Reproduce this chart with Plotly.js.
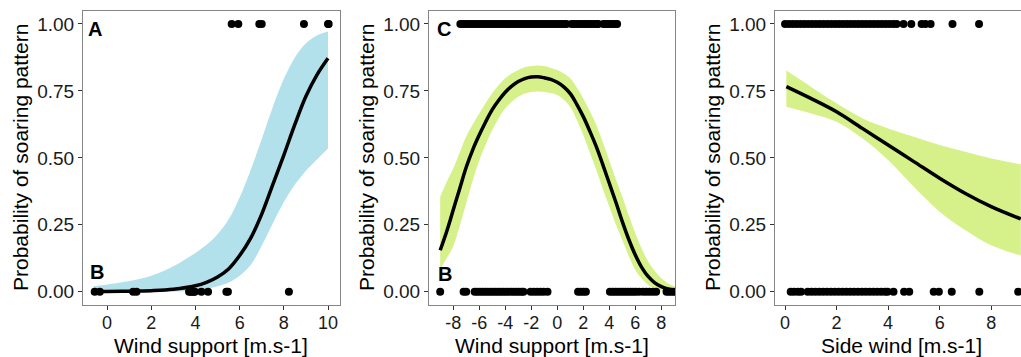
<!DOCTYPE html>
<html><head><meta charset="utf-8">
<script src="https://cdn.plot.ly/plotly-3.0.1.min.js"></script>
<style>html,body{margin:0;padding:0;overflow:hidden;background:#fff;width:1021px;height:357px}#chart{width:1040px;height:357px}</style>
</head><body><div id="chart"></div>
<script>
// ---------- Panel 1 (Wind support, A/B) ----------
const p1X     = [-0.6, 0, 1, 2, 3, 4, 4.5, 5, 5.5, 6, 6.5, 7, 7.5, 8, 8.5, 9, 9.5, 10];
const p1Fit   = [0.001, 0.001, 0.002, 0.004, 0.009, 0.022, 0.035, 0.055, 0.085, 0.135, 0.2, 0.29, 0.4, 0.51, 0.625, 0.73, 0.81, 0.872];
const p1Upper = [0.02, 0.027, 0.04, 0.06, 0.095, 0.145, 0.175, 0.215, 0.27, 0.352, 0.455, 0.57, 0.69, 0.795, 0.875, 0.928, 0.957, 0.972];
const p1Lower = [0, 0, 0, 0, 0.001, 0.004, 0.01, 0.02, 0.034, 0.06, 0.1, 0.172, 0.255, 0.335, 0.4, 0.452, 0.494, 0.535];
const p1OnesX  = [5.64, 5.94, 6.89, 7.0, 8.91, 10.0, 10.03];
const p1ZerosX = [-0.56, -0.33, 1.18, 1.33, 3.71, 3.78, 3.85, 3.92, 3.97, 4.27, 4.57, 5.4, 5.47, 8.23];

// ---------- Panel 2 (Wind support, C/B) ----------
const p2X     = [-9, -8.5, -8, -7.5, -7, -6.5, -6, -5.5, -5, -4.5, -4, -3.5, -3, -2.5, -2, -1.5, -1, -0.5, 0, 0.5, 1, 1.5, 2, 2.5, 3, 3.5, 4, 4.5, 5, 5.5, 6, 6.5, 7, 7.5, 8, 8.5, 9];
const p2Fit   = [0.155, 0.225, 0.305, 0.385, 0.465, 0.53, 0.585, 0.635, 0.68, 0.715, 0.745, 0.768, 0.785, 0.796, 0.802, 0.803, 0.799, 0.793, 0.782, 0.765, 0.74, 0.70, 0.654, 0.60, 0.542, 0.475, 0.405, 0.335, 0.262, 0.195, 0.137, 0.09, 0.056, 0.033, 0.019, 0.01, 0.005];
const p2Upper = [0.355, 0.41, 0.46, 0.52, 0.58, 0.625, 0.666, 0.705, 0.741, 0.772, 0.797, 0.815, 0.828, 0.838, 0.843, 0.845, 0.843, 0.836, 0.828, 0.815, 0.797, 0.763, 0.722, 0.675, 0.623, 0.558, 0.49, 0.42, 0.355, 0.285, 0.218, 0.16, 0.112, 0.077, 0.05, 0.032, 0.02];
const p2Lower = [0.085, 0.125, 0.17, 0.245, 0.33, 0.415, 0.49, 0.55, 0.604, 0.648, 0.685, 0.71, 0.728, 0.74, 0.746, 0.748, 0.746, 0.742, 0.735, 0.717, 0.69, 0.642, 0.585, 0.52, 0.455, 0.385, 0.318, 0.252, 0.193, 0.132, 0.081, 0.048, 0.025, 0.012, 0.004, 0.001, 0.0];
const p2OnesX  = [-7.45, -7.25, -7.05, -6.85, -6.65, -6.45, -6.25, -6.05, -5.85, -5.65, -5.45, -5.25, -5.05, -4.85, -4.65, -4.45, -4.25, -4.05, -3.85, -3.65, -3.45, -3.25, -3.05, -2.85, -2.65, -2.45, -2.25, -2.05, -1.85, -1.65, -1.45, -1.25, -1.05, -0.85, -0.65, -0.45, -0.25, -0.05, 0.15, 0.35, 0.55, 0.7, 1.1, 1.3, 1.5, 1.7, 1.9, 2.1, 2.25, 2.45, 2.65, 2.85, 3.05, 3.15, 3.55, 3.7, 3.9, 4.1, 4.3, 4.5, 4.6];
const p2ZerosX = [-9.0, -7.2, -7.0, -6.35, -6.15, -5.95, -5.75, -5.55, -5.35, -5.15, -4.95, -4.75, -4.55, -4.35, -4.15, -3.95, -3.75, -3.55, -3.35, -3.15, -2.95, -2.75, -2.6, -2.05, -1.8, -1.55, -1.3, -1.05, -0.75, 1.6, 1.8, 2.0, 2.2, 4.05, 4.25, 4.45, 4.65, 4.85, 5.05, 5.25, 5.45, 5.65, 5.85, 6.05, 6.3, 6.6, 6.85, 7.1, 7.35, 7.6, 8.4, 8.6, 8.8, 9.0];

// ---------- Panel 3 (Side wind) ----------
const p3X     = [0.05, 1, 2, 3, 4, 5, 6, 7, 8, 9.15];
const p3Fit   = [0.766, 0.722, 0.672, 0.61, 0.548, 0.486, 0.424, 0.367, 0.318, 0.272];
const p3Upper = [0.826, 0.766, 0.704, 0.648, 0.61, 0.579, 0.548, 0.523, 0.498, 0.476];
const p3Lower = [0.691, 0.666, 0.635, 0.573, 0.492, 0.392, 0.299, 0.23, 0.174, 0.135];
const p3OnesX  = [0.0, 0.15, 0.3, 0.45, 0.6, 0.75, 0.9, 1.05, 1.2, 1.35, 1.5, 1.65, 1.8, 1.95, 2.1, 2.25, 2.4, 2.55, 2.7, 2.85, 3.0, 3.15, 3.3, 3.45, 3.6, 3.75, 3.9, 4.05, 4.2, 4.33, 4.6, 4.9, 5.3, 5.45, 5.65, 6.5, 7.53];
const p3ZerosX = [0.22, 0.35, 0.5, 0.62, 0.88, 1.03, 1.18, 1.33, 1.48, 1.63, 1.78, 1.93, 2.08, 2.23, 2.38, 2.53, 2.68, 2.83, 2.98, 3.13, 3.28, 3.43, 3.58, 3.73, 3.88, 3.98, 4.21, 4.62, 4.82, 5.77, 5.97, 6.47, 7.54, 9.05];

// ---------- Text / ticks ----------
const yTitle = "Probability of soaring pattern";
const xTitles = ["Wind support [m.s-1]", "Wind support [m.s-1]", "Side wind [m.s-1]"];
const yTickVals = [0, 0.25, 0.5, 0.75, 1];
const yTickText = ["0.00", "0.25", "0.50", "0.75", "1.00"];
const x1TickVals = [0, 2, 4, 6, 8, 10];
const x1TickText = ["0", "2", "4", "6", "8", "10"];
const x2TickVals = [-8, -6, -4, -2, 0, 2, 4, 6, 8];
const x2TickText = ["-8", "-6", "-4", "-2", "0", "2", "4", "6", "8"];
const x3TickVals = [0, 2, 4, 6, 8];
const x3TickText = ["0", "2", "4", "6", "8"];

const W = 1040, H = 357;
const FONT = "Liberation Sans, Arial, Helvetica, sans-serif";
const BLUE = "#b2e1ec", GREEN = "#d6f08a";

function ribbon(x, up, lo, color, xa, ya) {
  return [
    {x: x, y: lo, type: "scatter", mode: "lines", line: {width: 0, color: color, shape: "spline", smoothing: 1},
      hoverinfo: "skip", xaxis: xa, yaxis: ya, showlegend: false},
    {x: x, y: up, type: "scatter", mode: "lines", fill: "tonexty", fillcolor: color,
      line: {width: 0, color: color, shape: "spline", smoothing: 1},
      hoverinfo: "skip", xaxis: xa, yaxis: ya, showlegend: false}
  ];
}
function curve(x, y, xa, ya) {
  return {x: x, y: y, type: "scatter", mode: "lines",
    line: {color: "#000", width: 3.5, shape: "spline", smoothing: 1},
    xaxis: xa, yaxis: ya, showlegend: false};
}
function dots(xs, yv, xa, ya) {
  return {x: xs, y: xs.map(() => yv), type: "scatter", mode: "markers",
    marker: {color: "#000", size: 8}, xaxis: xa, yaxis: ya, showlegend: false};
}

const data = [
  ...ribbon(p1X, p1Upper, p1Lower, BLUE, "x", "y"),
  curve(p1X, p1Fit, "x", "y"),
  dots(p1OnesX, 1, "x", "y"), dots(p1ZerosX, 0, "x", "y"),
  ...ribbon(p2X, p2Upper, p2Lower, GREEN, "x2", "y2"),
  curve(p2X, p2Fit, "x2", "y2"),
  dots(p2OnesX, 1, "x2", "y2"), dots(p2ZerosX, 0, "x2", "y2"),
  ...ribbon(p3X, p3Upper, p3Lower, GREEN, "x3", "y3"),
  curve(p3X, p3Fit, "x3", "y3"),
  dots(p3OnesX, 1, "x3", "y3"), dots(p3ZerosX, 0, "x3", "y3")
];

const tickFont = {family: FONT, size: 18, color: "#1a1a1a"};
function xax(l, r, range, tv, tt, anchor) {
  return {domain: [l / W, r / W], range: range, tickvals: tv, ticktext: tt, anchor: anchor,
    showgrid: false, zeroline: false, ticklabelstandoff: -3,
    showline: true, mirror: true, linecolor: "#858585", linewidth: 1,
    ticks: "outside", ticklen: 4, tickcolor: "#333", tickwidth: 1, tickfont: tickFont, fixedrange: true};
}
function yax(anchor) {
  return {domain: [(H - 305.1) / H, (H - 10.6) / H], range: [-0.05, 1.05], anchor: anchor,
    tickvals: yTickVals, ticktext: yTickText, showgrid: false, zeroline: false,
    showline: true, mirror: true, linecolor: "#858585", linewidth: 1,
    ticks: "outside", ticklen: 4, tickcolor: "#333", tickwidth: 1, tickfont: {family: FONT, size: 19, color: "#1a1a1a"}, fixedrange: true};
}

const axLeft = [83, 429, 775], axRight = [339.5, 675, 1028];
const annotations = [];
for (let i = 0; i < 3; i++) {
  annotations.push({xref: "paper", yref: "paper", x: (axLeft[i] - 63) / W, y: (H - 158) / H,
    text: yTitle, textangle: -90, showarrow: false, xanchor: "center", yanchor: "middle",
    font: {family: FONT, size: 21, color: "#000"}});
  annotations.push({xref: "paper", yref: "paper", x: (axLeft[i] + axRight[i]) / 2 / W, y: (H - 345) / H,
    text: xTitles[i], showarrow: false, xanchor: "center", yanchor: "middle",
    font: {family: FONT, size: 21, color: "#000"}});
}
const letters = [["A", 95, 29], ["B", 97, 271.5], ["C", 443.5, 28.5], ["B", 444.5, 273.5]];
letters.forEach(([t, px, py]) => annotations.push({xref: "paper", yref: "paper", x: px / W, y: (H - py) / H,
  text: "<b>" + t + "</b>", showarrow: false, xanchor: "center", yanchor: "middle",
  font: {family: FONT, size: 20, color: "#000"}}));

const layout = {
  width: W, height: H, margin: {l: 0, r: 0, t: 0, b: 0},
  paper_bgcolor: "#fff", plot_bgcolor: "#fff", showlegend: false,
  xaxis: xax(83, 339.5, [-1.09, 10.52], x1TickVals, x1TickText, "y"),
  xaxis2: xax(429, 675, [-9.86, 9.05], x2TickVals, x2TickText, "y2"),
  xaxis3: xax(775, 1028, [-0.39, 9.43], x3TickVals, x3TickText, "y3"),
  yaxis: yax("x"), yaxis2: yax("x2"), yaxis3: yax("x3"),
  annotations: annotations
};

Plotly.newPlot("chart", data, layout, {displayModeBar: false, staticPlot: true});
</script></body></html>
